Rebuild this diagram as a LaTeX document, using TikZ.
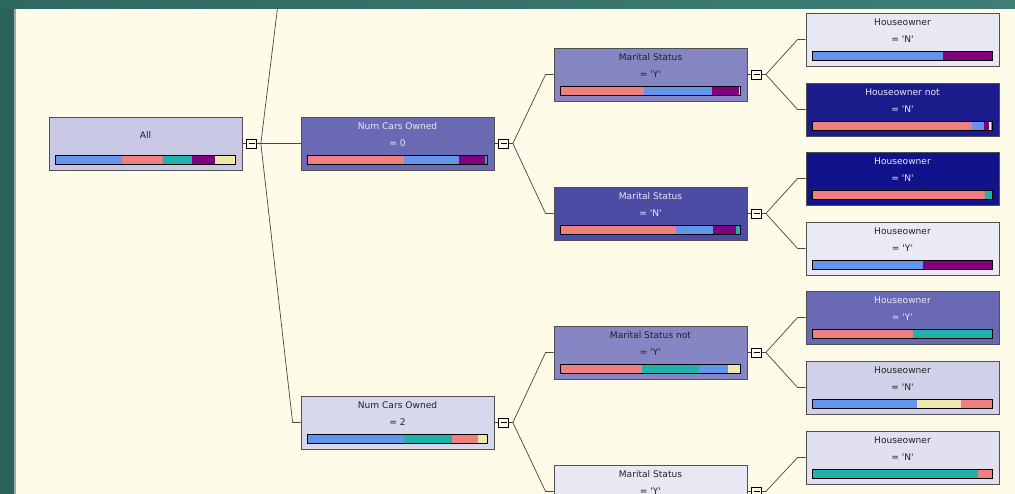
\documentclass[tikz,border=0pt]{standalone}
\usepackage{fontspec}
\setmainfont{DejaVu Sans}
\usetikzlibrary{calc}
\definecolor{cream}{RGB}{254,251,232}
\definecolor{tealL}{RGB}{46,104,98}
\definecolor{tealR}{RGB}{64,126,117}
\definecolor{tealS}{RGB}{44,98,92}
\definecolor{sidegray}{RGB}{165,165,165}
\definecolor{nodeborder}{RGB}{80,80,80}
\definecolor{linegray}{RGB}{70,70,70}
\definecolor{txtlight}{RGB}{232,232,246}
\definecolor{txtdark}{RGB}{34,34,34}
\definecolor{barblue}{RGB}{100,149,237}
\definecolor{barsalmon}{RGB}{240,128,128}
\definecolor{barteal}{RGB}{32,178,170}
\definecolor{barpurple}{RGB}{128,0,128}
\definecolor{barkhaki}{RGB}{238,232,170}
\definecolor{barwhite}{RGB}{250,250,250}
\definecolor{fAll}{RGB}{200,200,228}
\definecolor{fNCz}{RGB}{106,106,180}
\definecolor{fMY}{RGB}{133,133,194}
\definecolor{fHa}{RGB}{232,232,244}
\definecolor{fHb}{RGB}{28,28,140}
\definecolor{fMN}{RGB}{76,76,164}
\definecolor{fHc}{RGB}{18,18,138}
\definecolor{fHd}{RGB}{234,234,246}
\definecolor{fMnY}{RGB}{134,134,196}
\definecolor{fHe}{RGB}{104,104,180}
\definecolor{fHf}{RGB}{208,208,232}
\definecolor{fNCt}{RGB}{216,216,236}
\definecolor{fHg}{RGB}{224,224,240}
\definecolor{fMYb}{RGB}{232,232,244}

\newcommand\q{\textquotesingle}
\newcommand\tnode[7]{%
  \node[tbox, fill=#4] (#1) at (#2,#3) {};
  \node[lbl, text=#5] (#1-a) at ($(#1.north)+(0,9.5)$) {#6};
  \node[lbl, text=#5] (#1-b) at ($(#1.north)+(0,27)$) {#7};
}
\newcommand\tbar[2]{%
  \foreach \c/\e [remember=\e as \p (initially 0)] in {#2}{
    \fill[\c] ($(#1.north west)+(7+\p,39)$) rectangle ($(#1.north west)+(7+\e,48)$);
  }
  \draw[black, line width=0.8pt] ($(#1.north west)+(7,39)$) rectangle ($(#1.north west)+(187,48)$);
}

\begin{document}
\begin{tikzpicture}[x=1pt,y=-1pt,
  tbox/.style={rectangle, draw=nodeborder, line width=0.8pt, minimum width=193pt, minimum height=53pt, inner sep=0pt},
  lbl/.style={font=\fontsize{9.1}{11}\selectfont, inner sep=0pt, anchor=center},
  expander/.style={rectangle, draw=black, line width=0.7pt, fill=cream, minimum width=10pt, minimum height=9pt, inner sep=0pt,
    path picture={\draw[line width=0.7pt] ([xshift=2pt]path picture bounding box.west) -- ([xshift=-2pt]path picture bounding box.east);}},
  conn/.style={draw=linegray, line width=0.7pt}]

\useasboundingbox (0,0) rectangle (1015,494);
% frame
\fill[cream] (0,0) rectangle (1015,494);
\shade[left color=tealL, right color=tealR] (0,0) rectangle (1015,9);
\fill[tealS] (0,9) rectangle (14,494);
\fill[sidegray] (14,9) rectangle (16,494);

\begin{scope}
\clip (16,9) rectangle (1015,494);

% nodes
\node[tbox, fill=fAll] (All) at (145.5,143.5) {};
\node[lbl, text=txtdark] (All-a) at ($(All.north)+(0,18.5)$) {All};
\tbar{All}{barblue/66,barsalmon/107,barteal/136,barpurple/159,barkhaki/180}

\tnode{NCz}{397.5}{143.5}{fNCz}{txtlight}{Num Cars Owned}{= 0}
\tbar{NCz}{barsalmon/96.5,barblue/151,barpurple/177,barteal/180}

\tnode{MY}{650.5}{74.5}{fMY}{txtdark}{Marital Status}{= \q Y\q}
\tbar{MY}{barsalmon/83.5,barblue/151,barpurple/178,barkhaki/180}

\tnode{MN}{650.5}{213.5}{fMN}{txtlight}{Marital Status}{= \q N\q}
\tbar{MN}{barsalmon/115,barblue/152,barpurple/175,barteal/180}

\tnode{MnY}{650.5}{352.5}{fMnY}{txtdark}{Marital Status not}{= \q Y\q}
\tbar{MnY}{barsalmon/81,barteal/138,barblue/167,barkhaki/180}

\tnode{NCt}{397.5}{422.5}{fNCt}{txtdark}{Num Cars Owned}{= 2}
\tbar{NCt}{barblue/96,barteal/144,barsalmon/170,barkhaki/180}

\tnode{MYb}{650.5}{491.5}{fMYb}{txtdark}{Marital Status}{= \q Y\q}

\tnode{Ha}{902.5}{39.5}{fHa}{txtdark}{Houseowner}{= \q N\q}
\tbar{Ha}{barblue/130,barpurple/180}

\tnode{Hb}{902.5}{109.5}{fHb}{txtlight}{Houseowner not}{= \q N\q}
\tbar{Hb}{barsalmon/159,barblue/171,barpurple/176.5,barwhite/178,barteal/180}

\tnode{Hc}{902.5}{178.5}{fHc}{txtlight}{Houseowner}{= \q N\q}
\tbar{Hc}{barsalmon/172.5,barteal/180}

\tnode{Hd}{902.5}{248.5}{fHd}{txtdark}{Houseowner}{= \q Y\q}
\tbar{Hd}{barblue/110,barpurple/180}

\tnode{He}{902.5}{317.5}{fHe}{txtlight}{Houseowner}{= \q Y\q}
\tbar{He}{barsalmon/100.5,barteal/180}

\tnode{Hf}{902.5}{387.5}{fHf}{txtdark}{Houseowner}{= \q N\q}
\tbar{Hf}{barblue/104.5,barkhaki/148,barsalmon/180}

\tnode{Hg}{902.5}{457.5}{fHg}{txtdark}{Houseowner}{= \q N\q}
\tbar{Hg}{barteal/165.5,barsalmon/180}

% expanders
\node[expander] (eA) at (251.5,143.5) {};
\node[expander] (eB) at (503.5,143.5) {};
\node[expander] (eC) at (756.5,74.5) {};
\node[expander] (eD) at (756.5,213.5) {};
\node[expander] (eE) at (756.5,352.5) {};
\node[expander] (eF) at (503.5,422.5) {};
\node[expander] (eG) at (756.5,491.5) {};
\coordinate (topchild) at (293,-118);

% connectors
\draw[conn] (All) -- (eA);
\draw[conn] (eA) -- (NCz);
\draw[conn] (eA.east) -- ++(4,0) -- (topchild);
\draw[conn] (eA.east) -- ++(4,0) -- ([xshift=-8pt]NCt.west) -- (NCt.west);

\draw[conn] (NCz) -- (eB);
\draw[conn] (eB.east) -- ++(4,0) -- ([xshift=-8pt]MY.west) -- (MY.west);
\draw[conn] (eB.east) -- ++(4,0) -- ([xshift=-8pt]MN.west) -- (MN.west);

\draw[conn] (NCt) -- (eF);
\draw[conn] (eF.east) -- ++(4,0) -- ([xshift=-8pt]MnY.west) -- (MnY.west);
\draw[conn] (eF.east) -- ++(4,0) -- ([xshift=-8pt]MYb.west) -- (MYb.west);

\draw[conn] (MY) -- (eC);
\draw[conn] (eC.east) -- ++(4,0) -- ([xshift=-8pt]Ha.west) -- (Ha.west);
\draw[conn] (eC.east) -- ++(4,0) -- ([xshift=-8pt]Hb.west) -- (Hb.west);

\draw[conn] (MN) -- (eD);
\draw[conn] (eD.east) -- ++(4,0) -- ([xshift=-8pt]Hc.west) -- (Hc.west);
\draw[conn] (eD.east) -- ++(4,0) -- ([xshift=-8pt]Hd.west) -- (Hd.west);

\draw[conn] (MnY) -- (eE);
\draw[conn] (eE.east) -- ++(4,0) -- ([xshift=-8pt]He.west) -- (He.west);
\draw[conn] (eE.east) -- ++(4,0) -- ([xshift=-8pt]Hf.west) -- (Hf.west);

\draw[conn] (MYb) -- (eG);
\draw[conn] (eG.east) -- ++(4,0) -- ([xshift=-8pt]Hg.west) -- (Hg.west);
\end{scope}
\end{tikzpicture}
\end{document}
